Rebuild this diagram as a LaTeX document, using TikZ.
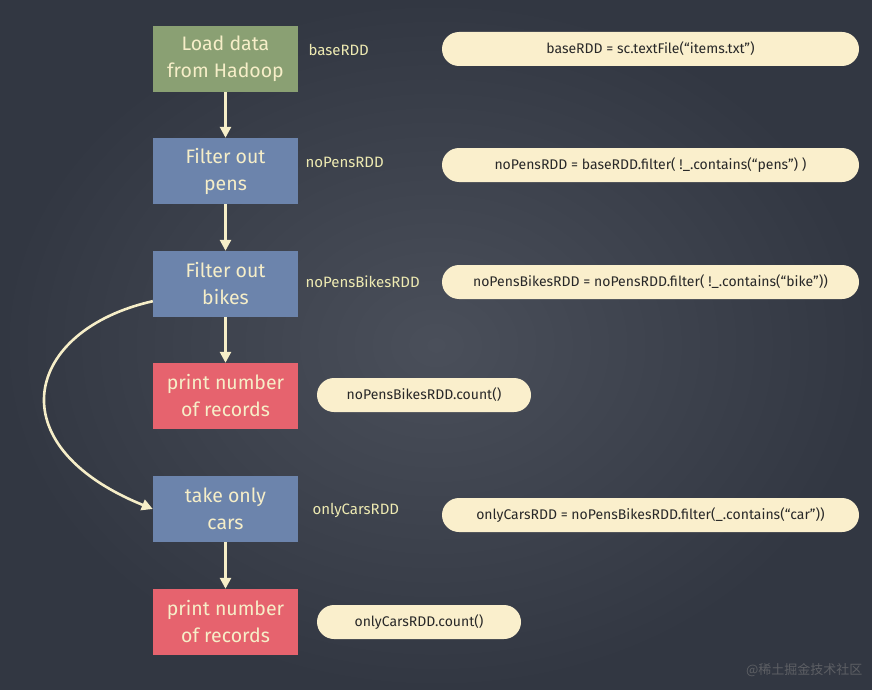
\documentclass[tikz,border=0pt]{standalone}
\usepackage{fontspec}
\setmainfont{Fira Sans}
\newfontfamily\cjk{Noto Sans CJK SC}
\usetikzlibrary{arrows.meta}

\begin{document}
\begin{tikzpicture}[x=1pt, y=-1pt,
    step box/.style={minimum width=145pt, minimum height=66pt, align=center,
        text=chalk, font=\fontsize{19.5}{27}\selectfont, inner sep=0pt},
    rdd/.style={text=label, font=\fontsize{15}{17}\selectfont, anchor=west},
    code/.style={fill=pill, rounded corners=17pt, minimum height=34pt,
        text=ink, font=\fontsize{14}{16}\selectfont, inner sep=0pt},
    flow/.style={-{Triangle[width=11pt, length=11pt]}, chalk, line width=2.6pt}]
    \definecolor{board}{RGB}{50, 55, 66}
    \definecolor{boardlight}{RGB}{74, 79, 90}
    \definecolor{chalk}{RGB}{246, 238, 200}
    \definecolor{label}{RGB}{238, 234, 178}
    \definecolor{pill}{RGB}{250, 239, 204}
    \definecolor{ink}{RGB}{40, 40, 40}
    \definecolor{hadoop}{RGB}{138, 160, 115}
    \definecolor{filter}{RGB}{108, 132, 172}
    \definecolor{action}{RGB}{230, 99, 110}

    % Board
    \shade[inner color=boardlight, outer color=board] (0,0) rectangle (872,690);
    \useasboundingbox (0,0) rectangle (872,690);

    % Draw steps
    \node[step box, fill=hadoop] (load) at (225.5,59) {Load data\\from Hadoop};
    \node[step box, fill=filter] (pens) at (225.5,171) {Filter out\\pens};
    \node[step box, fill=filter] (bikes) at (225.5,284) {Filter out\\bikes};
    \node[step box, fill=action] (count1) at (225.5,396) {print number\\of records};
    \node[step box, fill=filter] (cars) at (225.5,509) {take only\\cars};
    \node[step box, fill=action] (count2) at (225.5,622) {print number\\of records};

    % RDD names
    \node[rdd] (base) at (305,50) {baseRDD};
    \node[rdd] (nopens) at (302,162) {noPensRDD};
    \node[rdd] (nobikes) at (302,282) {noPensBikesRDD};
    \node[rdd] (onlycars) at (309,510) {onlyCarsRDD};

    % Code
    \node[code, minimum width=417pt] (c1) at (650.5,49) {baseRDD = sc.textFile(``items.txt'')};
    \node[code, minimum width=417pt] (c2) at (650.5,165) {noPensRDD = baseRDD.filter( !\_.contains(``pens'') )};
    \node[code, minimum width=417pt] (c3) at (650.5,282) {noPensBikesRDD = noPensRDD.filter( !\_.contains(``bike''))};
    \node[code, minimum width=214pt] (c4) at (424,395) {noPensBikesRDD.count()};
    \node[code, minimum width=417pt] (c5) at (650.5,515) {onlyCarsRDD = noPensBikesRDD.filter(\_.contains(``car''))};
    \node[code, minimum width=204pt] (c6) at (419,622) {onlyCarsRDD.count()};

    \draw[flow] (load) -- (pens);
    \draw[flow] (pens) -- (bikes);
    \draw[flow] (bikes) -- (count1);
    \draw[flow] (cars) -- (count2);
    \draw[flow] (bikes.south west) ++(0,-16) .. controls (25,330) and (-5,445) .. (cars.west);

    \node[text=gray!55!board, font=\cjk\fontsize{13}{15}\selectfont, anchor=east] (mark) at (866,670) {@稀土掘金技术社区};
\end{tikzpicture}
\end{document}
